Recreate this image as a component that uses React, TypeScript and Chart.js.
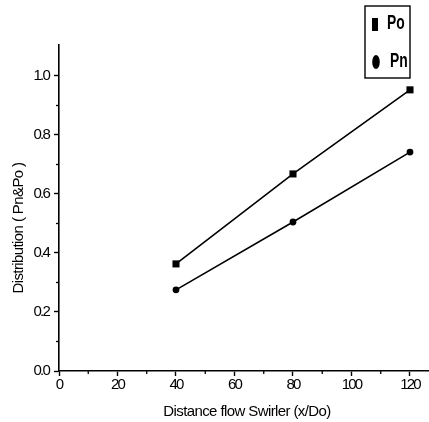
import { useEffect, useRef } from 'react';
import { Chart, registerables } from 'chart.js';
Chart.register(...registerables);

const xValues = [40, 80, 120];
const poValues = [0.363, 0.668, 0.953];
const pnValues = [0.275, 0.505, 0.742];
const seriesLabels = ['Po', 'Pn'];
const xTickValues = [0, 20, 40, 60, 80, 100, 120];
const xTickLabels = ['0', '20', '40', '60', '80', '100', '120'];
const yTickValues = [0, 0.2, 0.4, 0.6, 0.8, 1.0];
const yTickLabels = ['0.0', '0.2', '0.4', '0.6', '0.8', '1.0'];
const xMinorTicks = [10, 30, 50, 70, 90, 110];
const yMinorTicks = [0.1, 0.3, 0.5, 0.7, 0.9];
const xTitle = 'Distance flow Swirler (x/Do)';
const yTitle = 'Distribution ( Pn&Po )';

const FONT = '"Liberation Sans", Arial, sans-serif';

function labelFor(values: number[], labels: string[], v: number) {
  const i = values.findIndex((t) => Math.abs(t - v) < 1e-6);
  return i >= 0 ? labels[i] : '';
}

const extrasPlugin = {
  id: 'extras',
  beforeDraw(chart: any) {
    (chart.ctx as any).letterSpacing = '-1.8px';
  },
  afterDraw(chart: any) {
    const ctx = chart.ctx as any;
    const xs = chart.scales.x;
    const ys = chart.scales.y;
    const area = chart.chartArea;
    ctx.save();
    ctx.strokeStyle = '#000';
    ctx.lineWidth = 1.3;
    xMinorTicks.forEach((v) => {
      const px = xs.getPixelForValue(v);
      ctx.beginPath();
      ctx.moveTo(px, area.bottom);
      ctx.lineTo(px, area.bottom + 3);
      ctx.stroke();
    });
    yMinorTicks.forEach((v) => {
      const py = ys.getPixelForValue(v);
      ctx.beginPath();
      ctx.moveTo(area.left, py);
      ctx.lineTo(area.left - 3, py);
      ctx.stroke();
    });
    ctx.fillStyle = '#000';
    ctx.font = `15px ${FONT}`;
    ctx.letterSpacing = '-0.6px';
    ctx.textAlign = 'center';
    ctx.textBaseline = 'middle';
    ctx.fillText(xTitle, 247, 412);
    ctx.save();
    ctx.translate(19, 228);
    ctx.rotate(-Math.PI / 2);
    ctx.fillText(yTitle, 0, 0);
    ctx.restore();
    ctx.restore();

    // legend
    ctx.save();
    const lx = 365, ly = 6, lw = 45, lh = 72;
    ctx.fillStyle = '#fff';
    ctx.fillRect(lx, ly, lw, lh);
    ctx.strokeStyle = '#000';
    ctx.lineWidth = 1.4;
    ctx.strokeRect(lx, ly, lw, lh);
    ctx.fillStyle = '#000';
    ctx.fillRect(372, 18, 6, 13);
    ctx.beginPath();
    ctx.ellipse(376, 62, 3.8, 7, 0, 0, Math.PI * 2);
    ctx.fill();
    ctx.font = `bold 21px ${FONT}`;
    ctx.letterSpacing = '0px';
    ctx.textAlign = 'left';
    ctx.textBaseline = 'middle';
    ctx.save();
    ctx.translate(387, 23);
    ctx.scale(0.66, 1);
    ctx.fillText(seriesLabels[0], 0, 0);
    ctx.restore();
    ctx.save();
    ctx.translate(390, 61);
    ctx.scale(0.66, 1);
    ctx.fillText(seriesLabels[1], 0, 0);
    ctx.restore();
    ctx.restore();
  },
};

export default function App() {
  const ref = useRef<HTMLCanvasElement | null>(null);
  useEffect(() => {
    if (!ref.current) return;
    const chart = new Chart(ref.current, {
      type: 'scatter',
      data: {
        datasets: [
          {
            label: seriesLabels[0],
            data: xValues.map((x, i) => ({ x, y: poValues[i] })),
            showLine: true,
            borderColor: '#000',
            backgroundColor: '#000',
            borderWidth: 1.6,
            pointStyle: 'rect',
            pointRadius: 5,
            pointBorderWidth: 0,
          },
          {
            label: seriesLabels[1],
            data: xValues.map((x, i) => ({ x, y: pnValues[i] })),
            showLine: true,
            borderColor: '#000',
            backgroundColor: '#000',
            borderWidth: 1.6,
            pointStyle: 'circle',
            pointRadius: 3.4,
            pointBorderWidth: 0,
          },
        ],
      },
      options: {
        animation: false,
        responsive: false,
        layout: { autoPadding: false, padding: { top: 45, right: 0, left: 0, bottom: 0 } },
        plugins: { legend: { display: false }, tooltip: { enabled: false } },
        scales: {
          x: {
            type: 'linear',
            min: 0,
            max: 126.5,
            afterFit: (s: any) => { s.height = 51; s.paddingLeft = 0; s.paddingRight = 0; },
            afterBuildTicks: (s: any) => { s.ticks = xTickValues.map((v) => ({ value: v })); },
            ticks: {
              color: '#000',
              font: { family: FONT, size: 15 },
              padding: 0,
              maxRotation: 0,
              autoSkip: false,
              callback: (v: any) => labelFor(xTickValues, xTickLabels, Number(v)),
            },
            grid: {
              display: true,
              drawOnChartArea: false,
              drawTicks: true,
              tickLength: 5,
              tickWidth: 1.4,
              tickColor: '#000',
            },
            border: { display: true, color: '#000', width: 1.6 },
          },
          y: {
            type: 'linear',
            min: 0,
            max: 1.105,
            afterFit: (s: any) => { s.width = 59; s.paddingTop = 0; s.paddingBottom = 0; },
            afterBuildTicks: (s: any) => { s.ticks = yTickValues.map((v) => ({ value: v })); },
            ticks: {
              color: '#000',
              font: { family: FONT, size: 15 },
              padding: 5,
              autoSkip: false,
              callback: (v: any) => labelFor(yTickValues, yTickLabels, Number(v)),
            },
            grid: {
              display: true,
              drawOnChartArea: false,
              drawTicks: true,
              tickLength: 5,
              tickWidth: 1.4,
              tickColor: '#000',
            },
            border: { display: true, color: '#000', width: 1.6 },
          },
        },
      },
      plugins: [extrasPlugin],
    });
    return () => chart.destroy();
  }, []);
  return (
    <div style={{ position: 'absolute', left: 0, top: 0, width: 429, height: 422, background: '#fff' }}>
      <canvas ref={ref} width={429} height={422} />
    </div>
  );
}
